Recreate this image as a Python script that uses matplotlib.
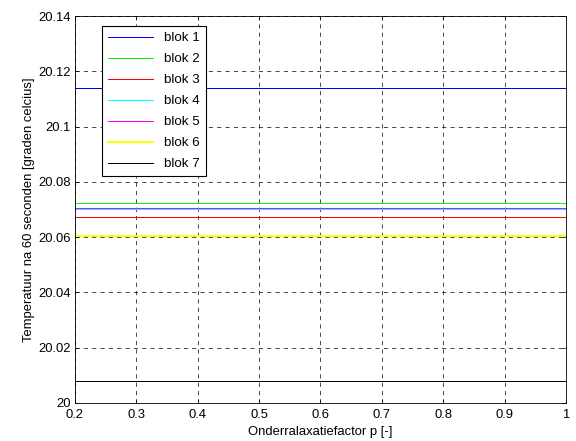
import numpy as np
import matplotlib.pyplot as plt

plt.rcParams['font.family'] = ['Liberation Sans', 'DejaVu Sans']
plt.rcParams['font.size'] = 9.4

p = [0.2, 0.3, 0.4, 0.5, 0.6, 0.7, 0.8, 0.9, 1.0]
labels = ['blok 1', 'blok 2', 'blok 3', 'blok 4', 'blok 5', 'blok 6', 'blok 7']
temps = [20.1139, 20.0722, 20.0673, 20.0702, 20.0705, 20.0605, 20.0079]
colors = ['#0000ff', '#00ff00', '#ff0000', '#00ffff', '#ff00ff', '#ffff00', '#000000']
widths = [0.72, 0.72, 0.72, 0.72, 0.72, 1.44, 0.72]

fig = plt.figure(figsize=(5.76, 4.41), dpi=100)
ax = fig.add_axes([0.130, 0.0862, 0.8526, 0.8775])

for lab, t, c, w in zip(labels, temps, colors, widths):
    ax.plot(p, [t] * len(p), color=c, lw=w, label=lab, antialiased=False)

ax.set_xlim(0.2, 1)
ax.set_ylim(20, 20.14)
ax.set_xticks(p)
ax.set_xticklabels(['0.2', '0.3', '0.4', '0.5', '0.6', '0.7', '0.8', '0.9', '1'])
yt = [20, 20.02, 20.04, 20.06, 20.08, 20.1, 20.12, 20.14]
ax.set_yticks(yt)
ax.set_yticklabels(['20', '20.02', '20.04', '20.06', '20.08', '20.1', '20.12', '20.14'])
ax.grid(True, color='black', ls=(0, (6, 6)), lw=0.5)
ax.tick_params(direction='in', top=True, right=True, length=3, width=0.5, pad=3)
ax.tick_params(axis='x', pad=4)
for s in ax.spines.values():
    s.set_linewidth(0.6)

ax.set_xlabel('Onderralaxatiefactor p [-]', labelpad=4)
ax.set_ylabel('Temperatuur na 60 seconden [graden celcius]', labelpad=2)

leg = ax.legend(loc='upper left', bbox_to_anchor=(0.055, 0.974), borderaxespad=0,
                fancybox=False, edgecolor='black', framealpha=1, handlelength=3.4,
                fontsize=9.6, borderpad=0.45, labelspacing=0.65, handletextpad=0.8)
leg.get_frame().set_linewidth(0.8)

plt.savefig('out.png', dpi=100)
